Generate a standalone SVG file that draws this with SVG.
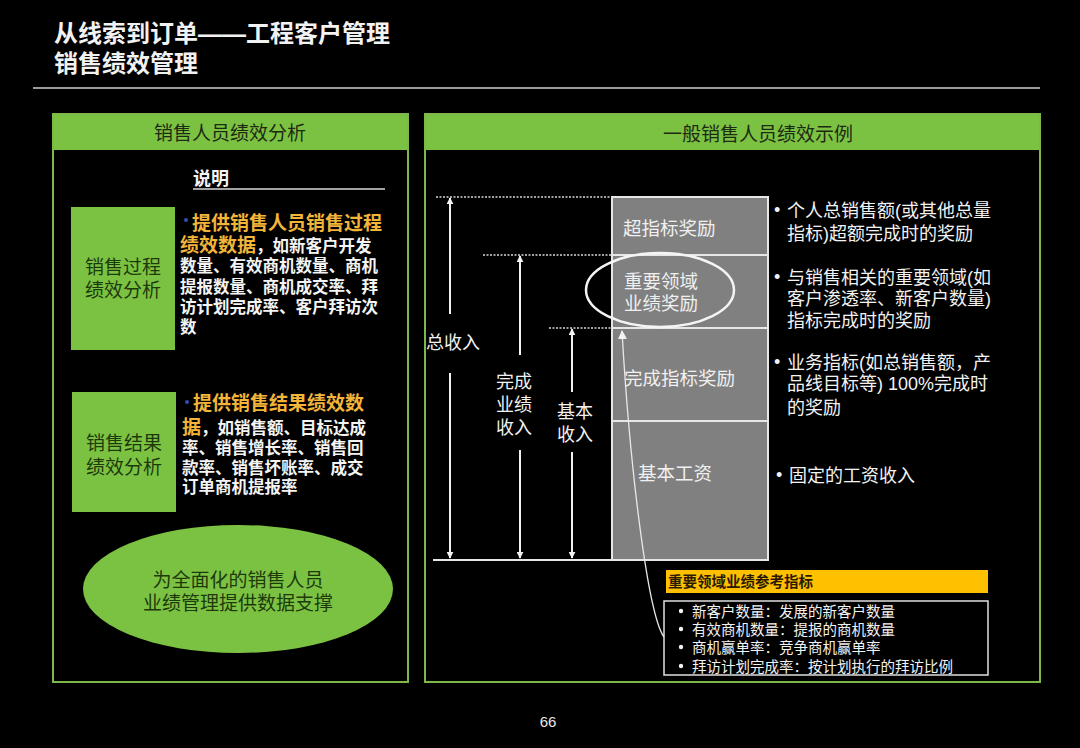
<svg xmlns="http://www.w3.org/2000/svg" width="1080" height="748" viewBox="0 0 1080 748">
<defs>
<style>
text{font-family:"Liberation Sans","Noto Sans CJK SC",sans-serif;}
.title{fill:#f2f2f2;font-size:24px;font-weight:bold;}
.hdr{fill:#1d2a12;font-size:19px;text-anchor:middle;}
.boxt{fill:#1c3a0c;font-size:19px;text-anchor:middle;}
.wt{fill:#f4f4f4;font-size:16.5px;font-weight:bold;}
.or{fill:#f2b53a;font-size:19px;font-weight:bold;}
.rt{fill:#f2f2f2;font-size:18px;}
.gt{fill:#f0f0f0;font-size:18.5px;}
.lbl{fill:#f2f2f2;font-size:18px;text-anchor:middle;}
.sm{fill:#f2f2f2;font-size:14.5px;}
.panel{fill:none;stroke:#7cb84a;stroke-width:2;}
.hfill{fill:#7cc242;}
.gbox{fill:#7cc242;}
.dot{stroke:#d8d8d8;stroke-width:1.5;stroke-dasharray:2 1.5;}
.arr{stroke:#f2f2f2;stroke-width:2;fill:none;}
</style>
<marker id="ah" viewBox="0 0 10 10" refX="9" refY="5" markerWidth="7" markerHeight="7" orient="auto-start-reverse" markerUnits="userSpaceOnUse">
<path d="M0,0 L10,5 L0,10 z" fill="#f2f2f2"/>
</marker>
<marker id="ah2" viewBox="0 0 10 10" refX="9" refY="5" markerWidth="9" markerHeight="9" orient="auto" markerUnits="userSpaceOnUse">
<path d="M0,0 L10,5 L0,10 z" fill="#f2f2f2"/>
</marker>
</defs>
<rect x="0" y="0" width="1080" height="748" fill="#000"/>

<g id="title">
<text class="title" x="54" y="42">从线索到订单——工程客户管理</text>
<text class="title" x="54" y="72">销售绩效管理</text>
<line x1="33" y1="88" x2="1040" y2="88" stroke="#cfcfcf" stroke-width="1.5"/>
</g>

<g id="left-panel">
<rect class="hfill" x="53" y="114" width="355" height="36"/>
<rect class="panel" x="53" y="114" width="355" height="568"/>
<text class="hdr" x="230" y="140">销售人员绩效分析</text>
<text x="193" y="185" fill="#f4f4f4" font-size="18" font-weight="bold">说明</text>
<line x1="193" y1="189" x2="385" y2="189" stroke="#d8d8d8" stroke-width="1.5"/>
</g>

<g id="process-box">
<rect class="gbox" x="71" y="207" width="104" height="143"/>
<text class="boxt" x="123" y="274">销售过程</text>
<text class="boxt" x="123" y="297">绩效分析</text>
</g>
<g id="process-text">
<circle cx="186" cy="220" r="2" fill="#3050b0"/>
<text class="or" x="192" y="230">提供销售人员销售过程</text>
<text x="180" y="252"><tspan class="or">绩效数据</tspan><tspan class="wt" font-size="17">，如新客户开发</tspan></text>
<text class="wt" x="180" y="272">数量、有效商机数量、商机</text>
<text class="wt" x="180" y="293">提报数量、商机成交率、拜</text>
<text class="wt" x="180" y="313">访计划完成率、客户拜访次</text>
<text class="wt" x="180" y="333">数</text>
</g>

<g id="result-box">
<rect class="gbox" x="72" y="392" width="104" height="120"/>
<text class="boxt" x="124" y="450">销售结果</text>
<text class="boxt" x="124" y="474">绩效分析</text>
</g>
<g id="result-text">
<circle cx="187" cy="402" r="2" fill="#3050b0"/>
<text class="or" x="193" y="410">提供销售结果绩效数</text>
<text x="182" y="434"><tspan class="or">据</tspan><tspan class="wt" font-size="17">，如销售额、目标达成</tspan></text>
<text class="wt" x="182" y="454">率、销售增长率、销售回</text>
<text class="wt" x="182" y="474">款率、销售坏账率、成交</text>
<text class="wt" x="182" y="493">订单商机提报率</text>
</g>

<g id="support-ellipse">
<ellipse cx="238" cy="589" rx="155" ry="64" fill="#7cc242"/>
<text class="boxt" x="238" y="587">为全面化的销售人员</text>
<text class="boxt" x="238" y="610">业绩管理提供数据支撑</text>
</g>

<g id="right-panel">
<rect class="hfill" x="425" y="114" width="616" height="36"/>
<rect class="panel" x="425" y="114" width="615" height="568"/>
<text class="hdr" x="758" y="141">一般销售人员绩效示例</text>
</g>

<g id="stack">
<rect x="612" y="197" width="156" height="363" fill="#808080" stroke="#e6e6e6" stroke-width="2"/>
<line x1="612" y1="255" x2="768" y2="255" stroke="#e6e6e6" stroke-width="2"/>
<line x1="612" y1="328" x2="768" y2="328" stroke="#e6e6e6" stroke-width="2"/>
<line x1="612" y1="421" x2="768" y2="421" stroke="#e6e6e6" stroke-width="2"/>
<text class="gt" x="623" y="235">超指标奖励</text>
<text class="gt" x="624" y="288">重要领域</text>
<text class="gt" x="624" y="310">业绩奖励</text>
<text class="gt" x="624" y="385">完成指标奖励</text>
<text class="gt" x="638" y="480">基本工资</text>
<ellipse cx="660" cy="290" rx="74" ry="37" fill="none" stroke="#f4f4f4" stroke-width="2.5"/>
</g>

<g id="bullets-right">
<text class="rt" x="774" y="216">•</text><text class="rt" x="787" y="217">个人总销售额(或其他总量</text>
<text class="rt" x="787" y="240">指标)超额完成时的奖励</text>
<text class="rt" x="774" y="283">•</text><text class="rt" x="787" y="284">与销售相关的重要领域(如</text>
<text class="rt" x="787" y="305">客户渗透率、新客户数量)</text>
<text class="rt" x="787" y="327">指标完成时的奖励</text>
<text class="rt" x="774" y="368">•</text><text class="rt" x="787" y="369">业务指标(如总销售额，产</text>
<text class="rt" x="787" y="390">品线目标等) 100%完成时</text>
<text class="rt" x="787" y="414">的奖励</text>
<text class="rt" x="776" y="481">•</text><text class="rt" x="789" y="482">固定的工资收入</text>
</g>

<g id="axis-labels">
<text class="lbl" x="453" y="349">总收入</text>
<text class="lbl" x="514" y="388">完成</text>
<text class="lbl" x="514" y="411">业绩</text>
<text class="lbl" x="514" y="434">收入</text>
<text class="lbl" x="575" y="418">基本</text>
<text class="lbl" x="575" y="441">收入</text>
</g>

<g id="reference-list">
<rect x="666" y="570" width="322" height="23" fill="#ffc000"/>
<text x="668" y="587" fill="#2a1a00" font-size="14.5" font-weight="bold">重要领域业绩参考指标</text>
<rect x="664" y="601" width="324" height="74" fill="none" stroke="#e0e0e0" stroke-width="1.5"/>
<circle cx="681" cy="611" r="2.2" fill="#f2f2f2"/>
<text class="sm" x="692" y="617">新客户数量：发展的新客户数量</text>
<circle cx="681" cy="629" r="2.2" fill="#f2f2f2"/>
<text class="sm" x="692" y="635">有效商机数量：提报的商机数量</text>
<circle cx="681" cy="647" r="2.2" fill="#f2f2f2"/>
<text class="sm" x="692" y="653">商机赢单率：竞争商机赢单率</text>
<circle cx="681" cy="666" r="2.2" fill="#f2f2f2"/>
<text class="sm" x="692" y="672">拜访计划完成率：按计划执行的拜访比例</text>
</g>

<g id="connectors">
<line class="dot" x1="436" y1="197" x2="612" y2="197"/>
<line class="dot" x1="483" y1="255" x2="612" y2="255"/>
<line class="dot" x1="549" y1="328" x2="612" y2="328"/>
<line x1="433" y1="560" x2="768" y2="560" stroke="#e6e6e6" stroke-width="2"/>
<line class="arr" x1="450" y1="314" x2="450" y2="198" marker-end="url(#ah)"/>
<line class="arr" x1="450" y1="373" x2="450" y2="558" marker-end="url(#ah)"/>
<line class="arr" x1="520" y1="355" x2="520" y2="256" marker-end="url(#ah)"/>
<line class="arr" x1="520" y1="450" x2="520" y2="558" marker-end="url(#ah)"/>
<line class="arr" x1="572" y1="392" x2="572" y2="329" marker-end="url(#ah)"/>
<line class="arr" x1="572" y1="452" x2="572" y2="558" marker-end="url(#ah)"/>
<path d="M664,637 C648,615 630,470 622,331" fill="none" stroke="#e8e8e8" stroke-width="1.3" marker-end="url(#ah2)"/>
</g>

<text x="548" y="727" fill="#e8e8e8" font-size="15" text-anchor="middle">66</text>
</svg>
